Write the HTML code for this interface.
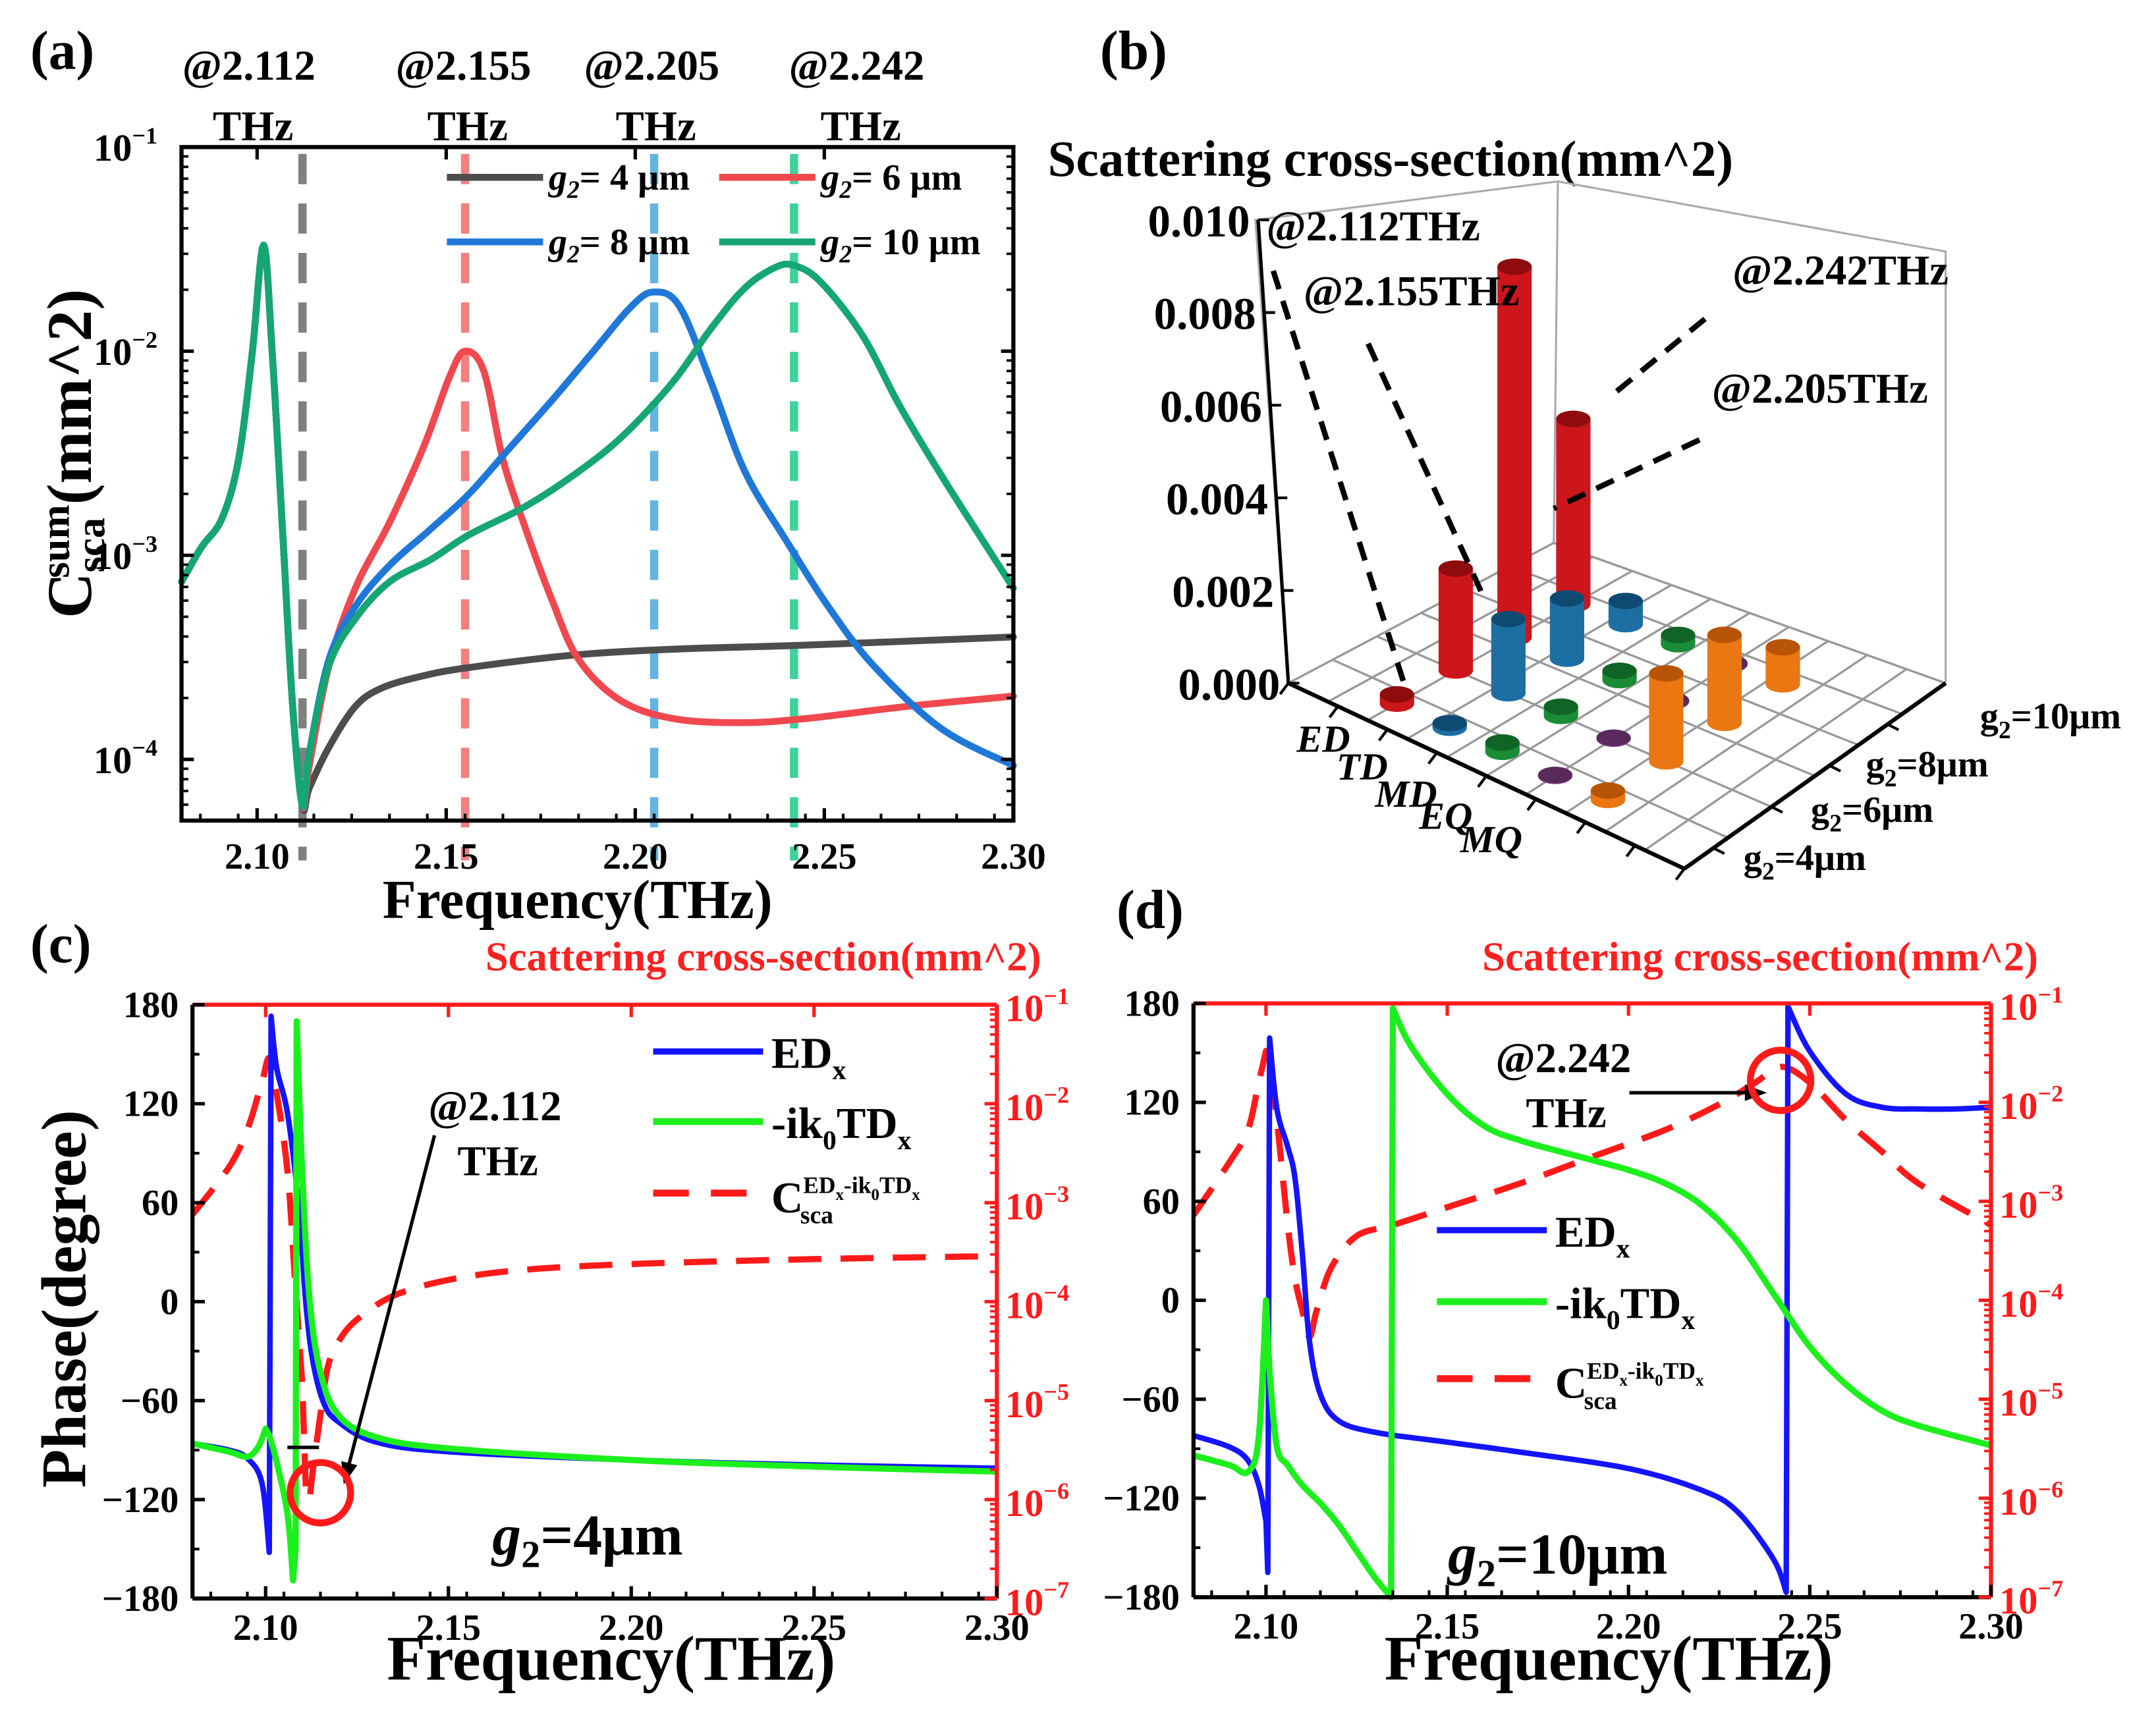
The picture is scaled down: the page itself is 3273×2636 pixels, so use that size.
<!DOCTYPE html>
<html><head><meta charset="utf-8">
<style>
html,body{margin:0;padding:0;background:#fff;}
svg{display:block;font-family:"Liberation Serif",serif;font-weight:bold;}
</style></head>
<body>
<svg id="fig" xmlns="http://www.w3.org/2000/svg" width="3273" height="2636" viewBox="0 0 1568 1263" preserveAspectRatio="none">
<rect width="1568" height="1263" fill="#fff"/>
</svg>
<script>
// ---------- Panel (a) data ----------
const aCommonF = [2.08,2.0853,2.0907,2.0951,2.0987,2.1017,2.104,2.1067,2.1094,2.112];
const aCommonL = [-3.13,-2.96,-2.82,-2.53,-2.01,-1.48,-2.01,-2.87,-3.74,-4.23];
const aG4F = [2.1138,2.119,2.126,2.133,2.144,2.156,2.183,2.21,2.245,2.30];
const aG4L = [-4.14,-3.94,-3.74,-3.65,-3.59,-3.55,-3.49,-3.46,-3.44,-3.40];
const aG6F = [2.1138,2.119,2.126,2.135,2.144,2.151,2.155,2.16,2.165,2.171,2.178,2.185,2.196,2.21,2.228,2.245,2.272,2.30];
const aG6L = [-4.03,-3.54,-3.16,-2.84,-2.47,-2.12,-2.0,-2.10,-2.53,-2.87,-3.22,-3.51,-3.71,-3.80,-3.82,-3.80,-3.74,-3.69];
const aG8F = [2.1138,2.119,2.126,2.135,2.146,2.156,2.167,2.178,2.1885,2.199,2.205,2.2117,2.22,2.229,2.24,2.251,2.263,2.281,2.30];
const aG8L = [-3.97,-3.51,-3.25,-3.05,-2.87,-2.70,-2.47,-2.24,-2.01,-1.78,-1.71,-1.78,-2.15,-2.59,-2.93,-3.25,-3.54,-3.85,-4.03];
const aG10F = [2.1138,2.119,2.126,2.135,2.146,2.156,2.171,2.185,2.197,2.21,2.22,2.229,2.237,2.242,2.249,2.26,2.27,2.281,2.292,2.30];
const aG10L = [-3.97,-3.54,-3.31,-3.13,-3.02,-2.90,-2.76,-2.59,-2.41,-2.15,-1.89,-1.69,-1.59,-1.58,-1.66,-1.92,-2.27,-2.61,-2.93,-3.16];
const aMarkers = [2.112,2.155,2.205,2.242];
const aMarkerLabels = ["@2.112","@2.155","@2.205","@2.242"];
const aXTicks = [2.10,2.15,2.20,2.25,2.30];
const aXTickLabels = ["2.10","2.15","2.20","2.25","2.30"];
const aYTicks = [-1,-2,-3,-4];

// ---------- Panel (b) data ----------
const bCategories = ["ED","TD","MD","EQ","MQ"];
const bGaps = ["4","6","8","10"];
const bED = [0.0002,0.0022,0.0080,0.0040];
const bTD = [0.0001,0.0016,0.0013,0.0005];
const bMD = [0.0002,0.0002,0.0002,0.0002];
const bEQ = [0.00002,0.00002,0.00002,0.00002];
const bMQ = [0.0002,0.0019,0.0019,0.0008];
const bZTicks = [0,0.002,0.004,0.006,0.008,0.010];
const bZTickLabels = ["0.000","0.002","0.004","0.006","0.008","0.010"];

// ---------- Panel (c) data ----------
const cEDF = [2.08,2.09,2.095,2.099,2.101,2.1015,2.103,2.106,2.109,2.111,2.113,2.116,2.12,2.13,2.15,2.2,2.25,2.3];
const cEDP = [-86,-90,-95,-110,-152,173,142,114,59,-1,-37,-62,-73,-85,-91,-96,-99,-101];
const cTDF = [2.08,2.09,2.095,2.098,2.1,2.101,2.103,2.106,2.1075,2.1082,2.1085,2.11,2.112,2.115,2.12,2.13,2.15,2.2,2.25,2.3];
const cTDP = [-86,-91,-94,-88,-77,-81,-97,-129,-169,-150,170,79,2,-43,-69,-82,-89,-96,-100,-103];
const cCF = [2.08,2.09,2.095,2.099,2.101,2.103,2.106,2.108,2.11,2.111,2.112,2.113,2.115,2.117,2.12,2.125,2.135,2.15,2.17,2.2,2.25,2.3];
const cCL = [-3.12,-2.64,-2.26,-1.78,-1.54,-1.89,-2.69,-3.76,-4.82,-5.89,-6.0,-5.68,-5.14,-4.66,-4.4,-4.18,-3.94,-3.78,-3.68,-3.62,-3.57,-3.54];

// ---------- Panel (d) data ----------
const dEDF = [2.08,2.09,2.095,2.098,2.1,2.1005,2.101,2.103,2.106,2.108,2.11,2.112,2.115,2.12,2.13,2.15,2.17,2.2,2.22,2.23,2.24,2.2435,2.244,2.25,2.26,2.27,2.28,2.29,2.3];
const dEDP = [-82,-89,-97,-112,-134,-165,159,116,93,74,29,-25,-57,-73,-80,-86,-92,-102,-115,-128,-157,-177,178,151,125,117,116,116,117];
const dTDF = [2.08,2.09,2.095,2.098,2.1,2.101,2.103,2.106,2.11,2.115,2.12,2.125,2.13,2.1345,2.135,2.14,2.15,2.16,2.17,2.19,2.2,2.21,2.22,2.23,2.24,2.25,2.26,2.27,2.28,2.3];
const dTDP = [-94,-100,-104,-83,0,-44,-89,-100,-112,-123,-136,-152,-168,-180,177,154,125,106,97,85,79,71,58,36,4,-28,-51,-67,-76,-88];
const dCF = [2.08,2.09,2.095,2.098,2.1,2.101,2.103,2.106,2.108,2.11,2.112,2.114,2.118,2.125,2.135,2.15,2.17,2.19,2.21,2.225,2.235,2.242,2.25,2.26,2.27,2.28,2.3];
const dCL = [-3.14,-2.6,-2.28,-1.8,-1.48,-1.64,-2.18,-3.24,-3.78,-4.1,-4.37,-4.1,-3.67,-3.35,-3.24,-3.06,-2.82,-2.55,-2.28,-2.02,-1.8,-1.64,-1.8,-2.18,-2.5,-2.82,-3.24];

const phaseTicks = [180,120,60,0,-60,-120,-180];
const logTicksR = [-1,-2,-3,-4,-5,-6,-7];
const cdXTicks = [2.10,2.15,2.20,2.25,2.30];

const NS = "http://www.w3.org/2000/svg";
const svg = document.getElementById("fig");
function el(tag, attrs, parent) {
  const e = document.createElementNS(NS, tag);
  for (const k in attrs) e.setAttribute(k, attrs[k]);
  (parent || svg).appendChild(e);
  return e;
}
function group(name) {
  const g = el("g", {});
  
  
  return g;
}
function txt(g, x, y, s, size, opts) {
  opts = opts || {};
  const t = el("text", {x: x, y: y, "font-size": size, fill: opts.fill || "#000", "text-anchor": opts.anchor || "start"}, g);
  if (opts.rot) t.setAttribute("transform", "rotate(" + opts.rot + " " + x + " " + y + ")");
  if (opts.italic) { const s1 = el("tspan", {"font-style": "italic"}, t); s1.textContent = s; }
  else t.textContent = s;
  return t;
}
function tsp(t, s, opts) {
  const e = el("tspan", {}, t);
  opts = opts || {};
  if (opts.dy !== undefined) e.setAttribute("dy", opts.dy);
  if (opts.size) e.setAttribute("font-size", opts.size);
  e.setAttribute("font-style", opts.italic ? "italic" : "normal");
  e.textContent = s;
  return e;
}
function polyPath(g, fs, vs, xf, yf, stroke, w, dash, name) {
  let d = "";
  for (let i = 0; i < fs.length; i++) d += (i ? "L" : "M") + xf(fs[i]).toFixed(2) + " " + yf(vs[i]).toFixed(2);
  const p = el("path", {d: d, fill: "none", stroke: stroke, "stroke-width": w, "stroke-linejoin": "round", "stroke-linecap": dash ? "butt" : "round"}, g);
  if (dash) p.setAttribute("stroke-dasharray", dash);
  
  
  return p;
}
function smooth(fs, vs) {
  const F = [], V = [];
  for (let i = 0; i < fs.length - 1; i++) {
    const jump = Math.abs(fs[i + 1] - fs[i]) < 0.0012;
    const p0 = (i > 0 && Math.abs(fs[i]-fs[i-1]) >= 0.0012) ? i - 1 : i;
    const p3 = (i + 2 < fs.length && Math.abs(fs[i+2]-fs[i+1]) >= 0.0012) ? i + 2 : i + 1;
    for (let k = 0; k < 8; k++) {
      const t = k / 8;
      if (jump) { F.push(fs[i] + (fs[i+1]-fs[i])*t); V.push(vs[i] + (vs[i+1]-vs[i])*t); continue; }
      const cr = (a0, a1, a2, a3) => 0.5 * ((2*a1) + (-a0+a2)*t + (2*a0-5*a1+4*a2-a3)*t*t + (-a0+3*a1-3*a2+a3)*t*t*t);
      F.push(cr(fs[p0], fs[i], fs[i+1], fs[p3]));
      V.push(cr(vs[p0], vs[i], vs[i+1], vs[p3]));
    }
  }
  F.push(fs[fs.length-1]); V.push(vs[vs.length-1]);
  return [F, V];
}
function sup10(g, x, y, e, size, fill, anchor) {
  const t = txt(g, x, y, "10", size, {fill: fill, anchor: anchor || "start"});
  tsp(t, "\u2212" + e, {dy: -size*0.45, size: size*0.62});
  return t;
}

// ================= Panel (a) =================
(function(){
  const g = group("panel-a");
  const L = 132, R = 737, T = 107, B = 597;
  const xA = f => L + (f - 2.08) / 0.22 * (R - L);
  const yA = lg => T + (-1 - lg) * 148.5;
  const lbl = txt(g, 22, 50, "(a)", 40);
  
  
  const mcol = ["#808080", "#f47f7f", "#63b5e0", "#3fd29a"];
  const labX = [181, 337, 474, 623];
  aMarkers.forEach((f, i) => {
    const ln = el("line", {x1: xA(f), y1: 112, x2: xA(f), y2: 626, stroke: mcol[i], "stroke-width": 6, "stroke-dasharray": "22 14"}, g);
    
    
    const t1 = txt(g, labX[i], 58, aMarkerLabels[i], 31, {anchor: "middle"});
    
    
    const t2 = txt(g, labX[i] + 3, 102, "THz", 31, {anchor: "middle"});
    
    
  });
  const series = [[aG4F, aG4L, "#4d4d4d", "curve-g2-4um"], [aG6F, aG6L, "#f0484e", "curve-g2-6um"], [aG8F, aG8L, "#1f78d8", "curve-g2-8um"], [aG10F, aG10L, "#15a673", "curve-g2-10um"]];
  series.forEach(s => {
    const [F, V] = smooth(aCommonF.concat(s[0]), aCommonL.concat(s[1]));
    polyPath(g, F, V, xA, yA, s[2], 5, null, s[3]);
  });
  const fr = el("rect", {x: L, y: T, width: R - L, height: B - T, fill: "none", stroke: "#000", "stroke-width": 3}, g);
  
  
  aXTicks.forEach((f, i) => {
    el("line", {x1: xA(f), y1: B, x2: xA(f), y2: B - 9, stroke: "#000", "stroke-width": 2.5}, g);
    el("line", {x1: xA(f), y1: T, x2: xA(f), y2: T + 9, stroke: "#000", "stroke-width": 2.5}, g);
    const t = txt(g, xA(f), 632, aXTickLabels[i], 27, {anchor: "middle"});
    
    
  });
  for (let f = 2.085; f < 2.30; f += 0.01) {
    el("line", {x1: xA(f), y1: B, x2: xA(f), y2: B - 5, stroke: "#000", "stroke-width": 2}, g);
  }
  aYTicks.forEach(lg => {
    el("line", {x1: L, y1: yA(lg), x2: L + 9, y2: yA(lg), stroke: "#000", "stroke-width": 2.5}, g);
    el("line", {x1: R, y1: yA(lg), x2: R - 9, y2: yA(lg), stroke: "#000", "stroke-width": 2.5}, g);
    const t = sup10(g, 68, yA(lg) + 10, -lg, 28, "#000");
    
    
    for (let m = 2; m <= 9; m++) {
      const y = yA(lg - 1 + Math.log10(m));
      if (y < B) { el("line", {x1: L, y1: y, x2: L + 5, y2: y, stroke: "#000", "stroke-width": 1.8}, g);
                   el("line", {x1: R, y1: y, x2: R - 5, y2: y, stroke: "#000", "stroke-width": 1.8}, g); }
    }
  });
  const xt = txt(g, 420, 668, "Frequency(THz)", 40, {anchor: "middle"});
  
  
  const yt = txt(g, 66, 330, "C", 46, {anchor: "middle", rot: -90});
  tsp(yt, "sca", {dy: 10, size: 30});
  const supT = tsp(yt, "sum", {dy: -26, size: 30});
  supT.setAttribute("dx", -44);
  tsp(yt, "(mm^2)", {dy: 16, size: 46});
  
  
  const leg = [["4", "#4d4d4d", 325, 129], ["6", "#f0484e", 523, 129], ["8", "#1f78d8", 325, 176], ["10", "#15a673", 523, 176]];
  leg.forEach(l => {
    const ln = el("line", {x1: l[2], y1: l[3], x2: l[2] + 70, y2: l[3], stroke: l[1], "stroke-width": 5}, g);
    
    
    const t = txt(g, l[2] + 74, l[3] + 9, "g", 27, {italic: true});
    tsp(t, "2", {dy: 6, size: 18, italic: true});
    tsp(t, "= " + l[0] + " \u03bcm", {dy: -6, size: 27});
    
    
  });
})();

// ================= Panel (b) =================
(function(){
  const g = group("panel-b");
  const lbl = txt(g, 800, 50, "(b)", 40);
  
  
  const title = txt(g, 762, 128, "Scattering cross-section(mm^2)", 37);
  
  
  const A = [937, 497], Bc = [1225, 632], C = [1415, 497], D = [1130, 395];
  const ciMin = -1.5, ciMax = 6, gjMin = -0.5, gjMax = 4;
  function P(ci, gj) {
    const s = (ci - ciMin) / (ciMax - ciMin), t = (gj - gjMin) / (gjMax - gjMin);
    return [(1-s)*(1-t)*A[0] + s*(1-t)*Bc[0] + s*t*C[0] + (1-s)*t*D[0],
            (1-s)*(1-t)*A[1] + s*(1-t)*Bc[1] + s*t*C[1] + (1-s)*t*D[1]];
  }
  const zs = v => v / 0.001 * 33.7;
  const wallTopL = [913, 160], wallTopB = [1133, 132], wallTopR = [1415, 183];
  el("polyline", {points: `${A[0]},${A[1]} ${wallTopL[0]},${wallTopL[1]} ${wallTopB[0]},${wallTopB[1]} ${D[0]},${D[1]}`, fill: "none", stroke: "#aaa", "stroke-width": 1.5}, g);
  el("polyline", {points: `${wallTopB[0]},${wallTopB[1]} ${wallTopR[0]},${wallTopR[1]} ${C[0]},${C[1]}`, fill: "none", stroke: "#aaa", "stroke-width": 1.5}, g);
  el("line", {x1: D[0], y1: D[1], x2: C[0], y2: C[1], stroke: "#aaa", "stroke-width": 1.5}, g);
  for (let ci = ciMin; ci <= ciMax + 0.01; ci += 0.75) {
    const p1 = P(ci, gjMin), p2 = P(ci, gjMax);
    el("line", {x1: p1[0], y1: p1[1], x2: p2[0], y2: p2[1], stroke: "#999", "stroke-width": 1.6}, g);
  }
  for (let gj = gjMin; gj <= gjMax + 0.01; gj += 0.75) {
    const p1 = P(ciMin, gj), p2 = P(ciMax, gj);
    el("line", {x1: p1[0], y1: p1[1], x2: p2[0], y2: p2[1], stroke: "#999", "stroke-width": 1.6}, g);
  }
  el("line", {x1: A[0], y1: A[1], x2: Bc[0], y2: Bc[1], stroke: "#000", "stroke-width": 3}, g);
  el("line", {x1: Bc[0], y1: Bc[1], x2: C[0], y2: C[1], stroke: "#000", "stroke-width": 3}, g);
  el("line", {x1: A[0], y1: A[1], x2: 915, y2: 160, stroke: "#000", "stroke-width": 2.5}, g);
  bZTicks.forEach((v, i) => {
    const y = A[1] - zs(v), x = A[0] - v / 0.01 * 22;
    el("line", {x1: x, y1: y, x2: x + 8, y2: y, stroke: "#000", "stroke-width": 2}, g);
    const t = txt(g, x - 6, y + 12, bZTickLabels[i], 33, {anchor: "end"});
    
    
  });
  for (let k = 0; k <= 8; k++) {
    const s = k / 8;
    const x = A[0] + (Bc[0]-A[0])*s, y = A[1] + (Bc[1]-A[1])*s;
    el("line", {x1: x, y1: y, x2: x - 6, y2: y + 8, stroke: "#000", "stroke-width": 2}, g);
  }
  const catPos = [[943, 547], [972, 567], [1000, 587], [1032, 603], [1062, 620]];
  bCategories.forEach((c, i) => {
    const t = txt(g, catPos[i][0], catPos[i][1], c, 28, {italic: true});
    
    
  });
  const gapPos = [[1268, 633], [1317, 598], [1357, 565], [1440, 530]];
  bGaps.forEach((gp, i) => {
    const t = txt(g, gapPos[i][0], gapPos[i][1], "g", 27);
    tsp(t, "2", {dy: 7, size: 18});
    tsp(t, "=" + gp + "\u03bcm", {dy: -7, size: 27});
    
    
    const p = P(ciMax, i);
    el("line", {x1: p[0], y1: p[1], x2: p[0] + 8, y2: p[1] + 4, stroke: "#000", "stroke-width": 2}, g);
  });
  const rows = [[bED, "#cc161c", "#8e0b0e"], [bTD, "#1d6fa3", "#0f4a72"], [bMD, "#1a8c36", "#0f6426"], [bEQ, "#7d3c80", "#5a2a5c"], [bMQ, "#ea7712", "#b85405"]];
  const bars = [];
  rows.forEach((r, ci) => r[0].forEach((v, gj) => bars.push({ci, gj, v, col: r[1], dark: r[2]})));
  bars.sort((a, b) => P(a.ci, a.gj)[1] - P(b.ci, b.gj)[1]);
  bars.forEach(b => {
    const [x, y] = P(b.ci, b.gj);
    const h = zs(b.v), rx = 12.5, ry = 6;
    const bg = el("g", {}, g);
    
    
    el("ellipse", {cx: x, cy: y, rx: rx, ry: ry, fill: b.col}, bg);
    el("rect", {x: x - rx, y: y - h, width: 2 * rx, height: h, fill: b.col}, bg);
    el("ellipse", {cx: x, cy: y - h, rx: rx, ry: ry, fill: b.dark}, bg);
  });
  const ann = [["@2.112THz", 921, 175, 926, 197, 1022, 500], ["@2.155THz", 948, 222, 995, 250, 1077, 430], ["@2.242THz", 1260, 207, 1240, 232, 1173, 287], ["@2.205THz", 1245, 293, 1236, 320, 1130, 370]];
  ann.forEach(a => {
    const t = txt(g, a[1], a[2], a[0], 31);
    
    
    const ln = el("line", {x1: a[3], y1: a[4], x2: a[5], y2: a[6], stroke: "#000", "stroke-width": 4, "stroke-dasharray": "14 9"}, g);
    
    
  });
})();

// ================= Panels (c) and (d) =================
function phasePanel(cfg) {
  const g = group(cfg.name);
  const {L, R, T, B} = cfg;
  const xf = f => L + (f - 2.08) / 0.22 * (R - L);
  const yp = p => T + (180 - p) / 360 * (B - T);
  const yl = lg => T + (-1 - lg) / 6 * (B - T);
  const lbl = txt(g, cfg.labX, cfg.labY, cfg.letter, 40);
  
  
  const rt = txt(g, cfg.rtX, 706, "Scattering cross-section(mm^2)", 30, {fill: "#ff2020"});
  
  
  const cid = "clip-" + cfg.name;
  const cp = el("clipPath", {id: cid}, g);
  el("rect", {x: L, y: T - 3, width: R - L, height: B - T + 6}, cp);
  const cg = el("g", {"clip-path": "url(#" + cid + ")"}, g);
  let s = smooth(cfg.cF, cfg.cL);
  polyPath(cg, s[0], s[1], xf, yl, "#ff1a1a", 4.5, "24 14", "scattering-curve");
  s = smooth(cfg.edF, cfg.edP);
  polyPath(cg, s[0], s[1], xf, yp, "#1414ff", 4, null, "phase-EDx");
  s = smooth(cfg.tdF, cfg.tdP);
  polyPath(cg, s[0], s[1], xf, yp, "#1cf01c", 4.5, null, "phase-ik0TDx");
  el("line", {x1: L, y1: T, x2: R, y2: T, stroke: "#ff1a1a", "stroke-width": 3}, g);
  el("line", {x1: R, y1: T, x2: R, y2: B, stroke: "#ff1a1a", "stroke-width": 3}, g);
  el("line", {x1: L, y1: T, x2: L, y2: B, stroke: "#000", "stroke-width": 3}, g);
  el("line", {x1: L, y1: B, x2: R, y2: B, stroke: "#000", "stroke-width": 3}, g);
  cdXTicks.forEach(f => {
    el("line", {x1: xf(f), y1: B, x2: xf(f), y2: B - 9, stroke: "#000", "stroke-width": 2.5}, g);
    el("line", {x1: xf(f), y1: T, x2: xf(f), y2: T + 9, stroke: "#ff1a1a", "stroke-width": 2.5}, g);
    const t = txt(g, xf(f), B + 30, f.toFixed(2), 27, {anchor: "middle"});
    
    
  });
  for (let f = 2.085; f < 2.30; f += 0.01) el("line", {x1: xf(f), y1: B, x2: xf(f), y2: B - 5, stroke: "#000", "stroke-width": 2}, g);
  phaseTicks.forEach(p => {
    el("line", {x1: L, y1: yp(p), x2: L + 9, y2: yp(p), stroke: "#000", "stroke-width": 2.5}, g);
    const t = txt(g, L - 10, yp(p) + 9, p < 0 ? "\u2212" + (-p) : String(p), 27, {anchor: "end"});
    
    
  });
  for (let p = 150; p > -180; p -= 60) el("line", {x1: L, y1: yp(p), x2: L + 5, y2: yp(p), stroke: "#000", "stroke-width": 2}, g);
  logTicksR.forEach(lg => {
    el("line", {x1: R, y1: yl(lg), x2: R - 9, y2: yl(lg), stroke: "#ff1a1a", "stroke-width": 2.5}, g);
    for (let m = 2; m <= 9; m++) {
      const y = yl(lg - 1 + Math.log10(m));
      if (y < B) el("line", {x1: R, y1: y, x2: R - 5, y2: y, stroke: "#ff1a1a", "stroke-width": 1.8}, g);
    }
    const t = sup10(g, R + 6, yl(lg) + 12, -lg, 28, "#ff1a1a");
    
    
  });
  const xt = txt(g, (L + R) / 2 + 12, 1222, "Frequency(THz)", 46, {anchor: "middle"});
  
  
  if (cfg.yTitle) {
    const yt = txt(g, 62, 945, "Phase(degree)", 46, {anchor: "middle", rot: -90});
    
    
  }
  const lx = cfg.legX, ly = cfg.legY;
  const l1 = el("line", {x1: lx, y1: ly[0], x2: lx + 80, y2: ly[0], stroke: "#1414ff", "stroke-width": 4.5}, g);
   
  const t1 = txt(g, lx + 86, ly[0] + 12, "ED", 32); tsp(t1, "x", {dy: 8, size: 20});
   
  const l2 = el("line", {x1: lx, y1: ly[1], x2: lx + 80, y2: ly[1], stroke: "#1cf01c", "stroke-width": 5}, g);
   
  const t2 = txt(g, lx + 86, ly[1] + 12, "-ik", 32); tsp(t2, "0", {dy: 8, size: 20}); tsp(t2, "TD", {dy: -8, size: 32}); tsp(t2, "x", {dy: 8, size: 20});
   
  const l3 = el("line", {x1: lx, y1: ly[2], x2: lx + 80, y2: ly[2], stroke: "#ff1a1a", "stroke-width": 5, "stroke-dasharray": "26 16"}, g);
   
  const t3 = txt(g, lx + 86, ly[2] + 14, "C", 32);
  tsp(t3, "ED", {dy: -14, size: 17}); tsp(t3, "x", {dy: 5, size: 12}); tsp(t3, "-ik", {dy: -5, size: 17}); tsp(t3, "0", {dy: 5, size: 12}); tsp(t3, "TD", {dy: -5, size: 17}); tsp(t3, "x", {dy: 5, size: 12});
   
  const t3b = txt(g, lx + 107, ly[2] + 22, "sca", 18);
   
  const a1 = txt(g, cfg.ann[0], cfg.ann[1], cfg.annText, 31, {anchor: "middle"});
   
  const a2 = txt(g, cfg.ann[0] + 2, cfg.ann[1] + 40, "THz", 31, {anchor: "middle"});
   
  const ar = cfg.arrow;
  const ang = Math.atan2(ar[3] - ar[1], ar[2] - ar[0]);
  const ln = el("line", {x1: ar[0], y1: ar[1], x2: ar[2] - 12 * Math.cos(ang), y2: ar[3] - 12 * Math.sin(ang), stroke: "#000", "stroke-width": 2.5}, g);
   
  const hx = ar[2], hy = ar[3];
  el("polygon", {points: `${hx},${hy} ${hx - 16*Math.cos(ang) + 6*Math.sin(ang)},${hy - 16*Math.sin(ang) - 6*Math.cos(ang)} ${hx - 16*Math.cos(ang) - 6*Math.sin(ang)},${hy - 16*Math.sin(ang) + 6*Math.cos(ang)}`, fill: "#000"}, g);
  const circ = el("circle", {cx: cfg.circle[0], cy: cfg.circle[1], r: 22, fill: "none", stroke: "#ff1a1a", "stroke-width": 5}, g);
   
  const gt = txt(g, cfg.gapText[0], cfg.gapText[1], "g", 42, {italic: true});
  tsp(gt, "2", {dy: 9, size: 28}); tsp(gt, "=" + cfg.gap + "\u03bcm", {dy: -9, size: 42});
   
  return g;
}
phasePanel({name: "panel-c", letter: "(c)", labX: 22, labY: 700, L: 140, R: 725, T: 731, B: 1163, rtX: 353,
  edF: cEDF, edP: cEDP, tdF: cTDF, tdP: cTDP, cF: cCF, cL: cCL, yTitle: true,
  legX: 475, legY: [765, 816, 868], ann: [360, 815], annText: "@2.112", arrow: [316, 826, 250, 1080],
  circle: [233, 1086], gapText: [358, 1131], gap: "4"});
phasePanel({name: "panel-d", letter: "(d)", labX: 812, labY: 675, L: 868, R: 1448, T: 730, B: 1162, rtX: 1078,
  edF: dEDF, edP: dEDP, tdF: dTDF, tdP: dTDP, cF: dCF, cL: dCL, yTitle: false,
  legX: 1045, legY: [895, 947, 1003], ann: [1137, 780], annText: "@2.242", arrow: [1185, 795, 1285, 795],
  circle: [1295, 786], gapText: [1053, 1145], gap: "10"});
const dash = el("line", {x1: 209, y1: 1053, x2: 232, y2: 1053, stroke: "#000", "stroke-width": 2.5});


</script>
</body></html>
